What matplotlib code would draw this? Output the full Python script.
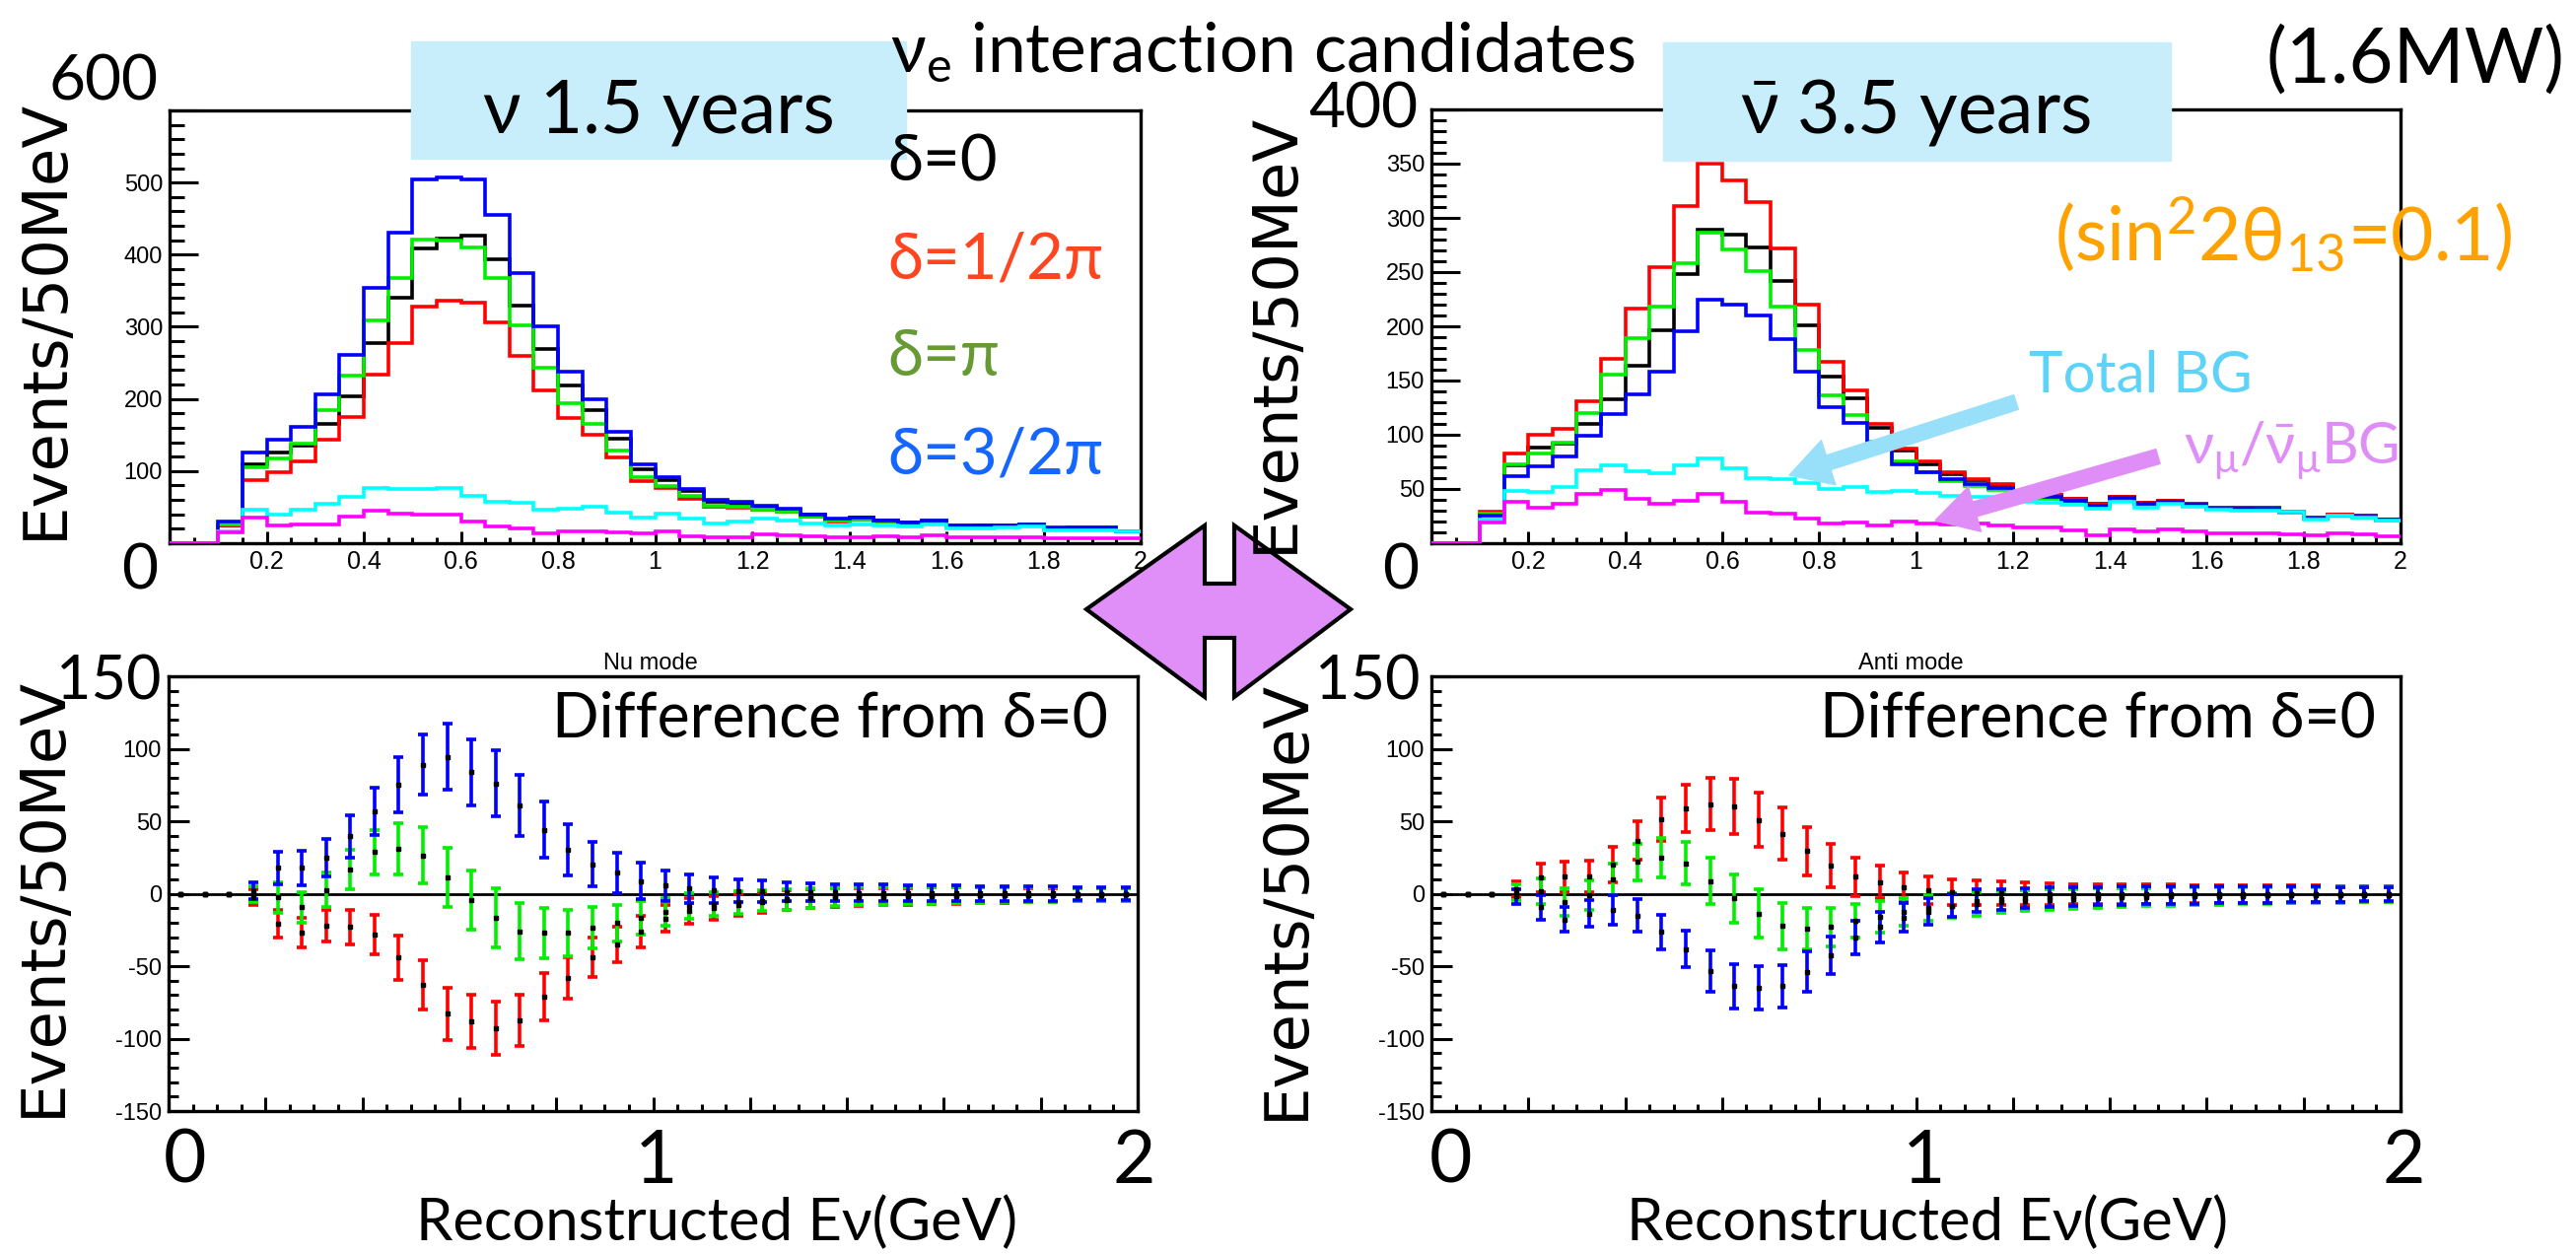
import numpy as np
import matplotlib
matplotlib.use("Agg")
import matplotlib.pyplot as plt
from matplotlib.patches import Rectangle, Polygon, FancyArrowPatch
from matplotlib.ticker import MultipleLocator

# ---------------------------------------------------------------
# data
# ---------------------------------------------------------------

# 50 MeV bins from 0 to 2 GeV
edges = np.linspace(0.0, 2.0, 41)
# points of the difference plots
diff_x = edges[:-1] + 0.025

# nu mode, 1.5 years : events / 50 MeV
nu_d0 = [0, 0, 25, 109, 126, 135, 166, 204, 278, 340, 409, 423, 427, 393, 330, 269, 218, 185, 145, 103,
         88, 72, 58, 55, 51, 47, 39, 33, 35, 32, 29, 32, 25, 24, 25, 26, 21, 22, 22, 17]
nu_dhalf = [0, 0, 24, 88, 98, 113, 143, 175, 234, 278, 328, 336, 334, 306, 259, 212, 174, 150, 119, 86,
            76, 62, 50, 49, 46.5, 43.5, 36.5, 30.5, 33, 30, 27.5, 30.5, 24, 23, 24, 25, 20.5, 21.5, 21.5, 16.5]
nu_dpi = [0, 0, 26, 105, 117, 138, 184, 233, 309, 367, 421, 419, 410, 367, 302, 243, 194, 165, 128, 91,
          79, 65, 52, 50, 47, 44, 36.5, 31, 33, 30.5, 27.5, 31, 24, 23, 24, 25.5, 20.5, 21.5, 21.5, 16.5]
nu_d3half = [0, 0, 30, 126, 144, 161, 206, 261, 354, 430, 504, 507, 504, 455, 374, 301, 238, 200, 154, 109,
             92, 75, 60, 57, 52.5, 48, 40, 34, 36, 32, 29, 32, 25, 24, 25, 26.5, 21.5, 22, 22, 17]
nu_totbg = [0, 0, 17, 46, 39, 46, 54, 64, 77, 75, 75, 76, 66, 57, 56, 47, 48, 50, 43, 36,
            41, 34, 28, 30, 34, 32, 28, 25, 26, 25, 23, 26, 20.5, 20.5, 21.5, 23, 18, 18, 18, 16]
nu_numubg = [0, 0, 15, 36, 24, 26, 26, 37, 45, 41, 39, 39, 30, 23, 20, 14, 17, 17, 15, 14,
             17, 10, 8, 8, 12, 10.5, 9, 8, 8, 10, 8, 11, 8, 8, 8, 8, 7, 7, 7, 7]

# anti-nu mode, 3.5 years
an_d0 = [0, 0, 26, 72, 88, 92, 110, 133, 164, 196, 248, 289, 285, 273, 242, 201, 154, 134, 106, 85,
         73, 64, 58.5, 54, 46, 44.5, 41, 36, 43, 37, 39, 36, 33, 32.5, 32.5, 29.5, 23.5, 26, 25, 22]
an_dhalf = [0, 0, 29, 83, 100, 105, 131, 170, 216, 255, 311, 350, 335, 315, 272, 220, 167, 141, 110, 87,
            75, 65, 59, 54.5, 46, 44.5, 41, 36, 43, 37, 39, 36, 33, 32.5, 32.5, 29.5, 23.5, 26, 25, 22]
an_dpi = [0, 0, 27, 73, 83, 93, 120, 155, 189, 218, 258, 286, 271, 251, 218, 178, 136, 118, 94, 75,
          65, 57, 52.5, 49, 42, 41, 38, 33.5, 40.5, 35, 37, 34.5, 31.5, 31, 31.5, 28.5, 22.5, 25, 24, 21]
an_d3half = [0, 0, 25, 62, 71, 80, 99, 119, 137, 158, 195, 225, 220, 210, 188, 158, 125, 111, 90, 73,
             65, 59, 54.5, 51, 43.5, 42.5, 39.3, 34.5, 41.7, 36, 38, 35, 32, 32, 32, 29, 23, 25.7, 24.7, 21.7]
an_totbg = [0, 0, 22, 48, 47, 52, 67, 72, 66, 64.5, 72, 78, 69, 60, 59, 55, 50, 51.5, 47, 48.5,
            46, 44, 43, 43, 38, 37, 35, 32, 38, 33, 36, 34, 31, 30, 30, 29, 22, 25, 24, 21]
an_numubg = [0, 0, 19, 38, 33, 36, 45, 49, 41, 36, 39, 45, 38, 28, 27, 23, 18, 19, 16, 20,
             18, 17, 18, 16, 14.5, 14.5, 11.5, 7.5, 13, 10.5, 13, 11, 9, 9, 9, 8.5, 7, 9, 8, 6.5]

# difference from delta=0 (value, error) - nu mode
nu_diff_half = [0, 0, 0, -2.5, -20.9, -27.2, -22.2, -23.1, -28.3, -44.2, -62.8, -82.8, -88.2, -93, -87.3,
                -71, -58, -44, -35.1, -26, -17.1, -12.0, -10.0, -8.0, -6.1, -4.3, -3.4, -2.7, -2.5, -2.1,
                -1.8, -1.6, -1.4, -1.2, -1.1, -1.0, -0.9, -0.8, -0.7, -0.6]
nu_err_half = [0, 0, 0, 5.3, 9.6, 10.2, 10.7, 12.2, 13.6, 15.4, 16.9, 18.1, 18.5, 18.5, 17.7, 16.2, 14.4,
               13.4, 12.5, 10.9, 9.3, 9.0, 8.2, 7.6, 7.2, 6.7, 6.5, 6.4, 6.2, 6.0, 5.8, 5.7, 5.5, 5.3,
               5.2, 5.0, 4.9, 4.6, 4.5, 4.4]
nu_diff_pi = [0, 0, 0, -0.5, -2.7, -9.5, 2.5, 16.8, 28.8, 31, 26.5, 11.1, -4.3, -16.6, -25.9, -27.2,
              -27.2, -23.6, -20.4, -16.6, -12.5, -8.5, -7.2, -6.1, -4.8, -3.9, -3.0, -2.5, -2.0, -1.8,
              -1.4, -1.4, -1.1, -1.0, -0.9, -0.8, -0.7, -0.6, -0.5, -0.5]
nu_err_pi = [0, 0, 0, 5.4, 10.3, 10.8, 11.9, 13.8, 15.4, 17.8, 19.3, 20.6, 20.6, 20.4, 19.3, 17.5, 16.0,
             14.1, 12.9, 11.7, 9.5, 8.7, 8.2, 8.0, 7.3, 7.0, 6.6, 6.3, 6.1, 5.9, 5.9, 5.8, 5.5, 5.3,
             5.2, 5.0, 4.9, 4.6, 4.5, 4.4]
nu_diff_3half = [0, 0, 0, 2, 17.7, 17.7, 24.9, 39.7, 56.7, 75, 88.9, 94.5, 83.9, 76, 61, 44, 30.4, 20.4,
                 14.3, 8.8, 5.6, 3.6, 2.5, 2.0, 1.6, 1.3, 1.0, 0.8, 0.6, 0.5, 0.3, 0.2, 0.2, 0.1, 0.1,
                 0.1, 0.1, 0.0, 0.0, 0.0]
nu_err_3half = [0, 0, 0, 6, 11.3, 12.1, 12.8, 14.6, 16.4, 19, 20.7, 22.6, 22.7, 22.7, 21.3, 19.4, 17.5,
                15.4, 14.2, 12.7, 10.7, 9.8, 8.7, 7.7, 7.3, 6.7, 6.2, 5.8, 5.8, 5.9, 5.5, 5.5, 5.4, 5.1,
                5.1, 5.0, 4.9, 4.5, 4.4, 4.4]

# difference from delta=0 (value, error) - anti-nu mode
an_diff_half = [0, 0, 0, 3.2, 10.9, 11.6, 11.8, 20.2, 36.5, 51.2, 59, 61.9, 60.3, 51, 41.3, 29.3, 19.5,
                11.6, 7.9, 4.5, 2.3, 1.1, 0.5, 0.2, 0.0, -0.2, -0.3, -0.3, -0.3, -0.3, -0.3, -0.3, -0.3,
                -0.3, -0.3, -0.3, -0.3, -0.3, -0.3, -0.3]
an_err_half = [0, 0, 0, 5.3, 9.6, 10.4, 10.7, 12.1, 13.3, 14.9, 16.3, 18, 19, 18.7, 18.1, 16.8, 15.1,
               13.3, 11.3, 10.2, 9.5, 9.0, 8.4, 8.0, 7.6, 7.3, 7.0, 6.9, 6.8, 6.7, 6.6, 6.4, 6.3, 6.2,
               6.1, 6.0, 5.8, 5.6, 5.5, 5.3]
an_diff_pi = [0, 0, 0, 1.1, 1.6, -5.9, -0.9, 10, 21.8, 24.7, 20.9, 8.8, -3.4, -13.8, -22.4, -24, -22.9,
              -18.8, -15.9, -12.5, -10, -8.4, -7.3, -6.0, -5.0, -4.2, -3.5, -3.0, -2.6, -2.3, -2.0, -1.8,
              -1.6, -1.4, -1.3, -1.2, -1.1, -1.0, -0.9, -0.8]
an_err_pi = [0, 0, 0, 5.7, 8.7, 9.4, 10, 11, 12.7, 13.8, 14.7, 16.2, 17, 16.7, 16.1, 14.4, 13.3, 11.7,
             10.9, 9.5, 8.8, 8.5, 8.0, 7.5, 7.2, 7.0, 6.8, 6.6, 6.5, 6.3, 6.2, 6.0, 5.9, 5.8, 5.6, 5.5,
             5.4, 5.2, 5.1, 5.0]
an_diff_3half = [0, 0, 0, -2, -9.5, -17.7, -13.8, -11.1, -15, -26.5, -38.3, -53.3, -63.9, -65, -63.9, -54,
                 -42.6, -30.4, -23.1, -16.6, -12.5, -8.2, -4.8, -3.8, -3.0, -2.5, -2.0, -1.7, -1.5, -1.3,
                 -1.1, -1.0, -0.9, -0.8, -0.7, -0.6, -0.5, -0.4, -0.3, -0.3]
an_err_3half = [0, 0, 0, 5.1, 8.5, 8.7, 9.3, 10.4, 11.1, 11.9, 12.7, 14.2, 15.3, 15, 14.6, 13.9, 12.8,
                11.6, 10.8, 9.9, 9.1, 7.6, 7.6, 7.2, 7.0, 6.8, 6.6, 6.4, 6.3, 6.1, 6.0, 5.9, 5.8, 5.6,
                5.5, 5.4, 5.3, 5.1, 5.0, 4.9]

# tick labels
top_xlabels = ["", "0.2", "0.4", "0.6", "0.8", "1", "1.2", "1.4", "1.6", "1.8", "2"]
nu_ylabels = ["", "100", "200", "300", "400", "500", ""]
an_ylabels = ["", "50", "100", "150", "200", "250", "300", "350", ""]
diff_ylabels = ["-150", "-100", "-50", "0", "50", "100", ""]

# ---------------------------------------------------------------

W, H = 2613, 1272
LATO = ["Lato", "DejaVu Sans"]
ROOT = ["Liberation Sans", "DejaVu Sans"]

plt.rcParams["mathtext.fontset"] = "custom"
plt.rcParams["mathtext.rm"] = "Lato"
plt.rcParams["mathtext.it"] = "Lato:italic"
plt.rcParams["mathtext.bf"] = "Lato:bold"

fig = plt.figure(figsize=(W / 100, H / 100), dpi=100)


def put(x, y, s, **kw):
    """ text at pixel position of the reference picture """
    kw.setdefault("zorder", 10)
    return fig.text(x / W, 1 - y / H, s, **kw)


def new_axes(left, top, right, bottom):
    return fig.add_axes([left / W, 1 - bottom / H, (right - left) / W, (bottom - top) / H])


def root_style(ax, ymin, ymax, ymajor, yminor, ylabels, xlabels, ylen):
    ax.set_xlim(0, 2)
    ax.set_ylim(ymin, ymax)
    ax.set_xticks(np.arange(0, 2.01, 0.2))
    ax.set_xticklabels(xlabels, family=ROOT, fontsize=18)
    ax.set_yticks(np.arange(ymin, ymax + 1, ymajor))
    ax.set_yticklabels(ylabels, family=ROOT, fontsize=17)
    ax.xaxis.set_minor_locator(MultipleLocator(0.05))
    ax.yaxis.set_minor_locator(MultipleLocator(yminor))
    ax.tick_params(which="both", direction="in", top=False, right=False, width=2.2)
    ax.tick_params(axis="y", which="major", length=ylen, pad=5)
    ax.tick_params(axis="y", which="minor", length=ylen / 2)
    ax.tick_params(axis="x", which="major", length=9, pad=5)
    ax.tick_params(axis="x", which="minor", length=4)
    for sp in ax.spines.values():
        sp.set_linewidth(2.4)


def histos(ax, series):
    # drawn above the frame, so the empty first bins show on the x axis
    for vals, col in series:
        ax.stairs(vals, edges, color=col, lw=2.6, baseline=None, zorder=3)


def diffs(ax, series):
    ax.axhline(0, color="black", lw=2.0, zorder=1)
    for vals, errs, col in series:
        v = np.array(vals)
        e = np.array(errs)
        m = e > 0
        ax.errorbar(diff_x[m], v[m], yerr=e[m], fmt="none", ecolor=col,
                    elinewidth=2.6, capsize=3.8, capthick=2.6, zorder=2)
    for vals, errs, col in series:
        ax.plot(diff_x, vals, "s", color="black", ms=2.2, zorder=3)


# --- top left : nu mode spectra
ax1 = new_axes(172, 112, 1157, 551)
root_style(ax1, 0, 600, 100, 20, nu_ylabels, top_xlabels, 21)
histos(ax1, [(nu_d0, "black"), (nu_dhalf, "#ff0000"), (nu_dpi, "#00ee00"),
             (nu_d3half, "#0000ff"), (nu_totbg, "#00ffff"), (nu_numubg, "#ff00ff")])

# --- top right : anti-nu mode spectra
ax2 = new_axes(1452, 111, 2435, 551)
root_style(ax2, 0, 400, 50, 10, an_ylabels, top_xlabels, 21)
histos(ax2, [(an_d0, "black"), (an_dhalf, "#ff0000"), (an_dpi, "#00ee00"),
             (an_d3half, "#0000ff"), (an_totbg, "#00ffff"), (an_numubg, "#ff00ff")])

# --- bottom : differences
ax3 = new_axes(171, 686, 1154, 1127)
root_style(ax3, -150, 150, 50, 10, diff_ylabels, [""] * 11, 15)
ax3.tick_params(axis="x", which="major", length=10)
ax3.tick_params(axis="x", which="minor", length=5)
diffs(ax3, [(nu_diff_half, nu_err_half, "#ff0000"), (nu_diff_pi, nu_err_pi, "#00ee00"),
            (nu_diff_3half, nu_err_3half, "#0000ff")])

ax4 = new_axes(1452, 686, 2435, 1127)
root_style(ax4, -150, 150, 50, 10, diff_ylabels, [""] * 11, 15)
ax4.tick_params(axis="x", which="major", length=10)
ax4.tick_params(axis="x", which="minor", length=5)
diffs(ax4, [(an_diff_half, an_err_half, "#ff0000"), (an_diff_pi, an_err_pi, "#00ee00"),
            (an_diff_3half, an_err_3half, "#0000ff")])

# --- overlay of the slide
put(1281, 73, r"$\mathrm{\nu_e}$ interaction candidates", ha="center", va="baseline",
    fontsize=50, family=LATO)
put(2450, 62, "(1.6MW)", ha="center", va="center", fontsize=56, family=LATO)

for (x0, y0, x1, y1) in [(417, 42, 919, 161), (1687, 43, 2202, 163)]:
    fig.patches.append(Rectangle((x0 / W, 1 - y1 / H), (x1 - x0) / W, (y1 - y0) / H,
                                 transform=fig.transFigure, color="#c8eefb", zorder=8))
put(668, 134, "ν 1.5 years", ha="center", va="baseline", fontsize=54, family=LATO)
put(1943, 134, r"$\mathrm{\bar{\nu}}$ 3.5 years", ha="center", va="baseline", fontsize=54,
    family=LATO)

put(900, 184, "δ=0", color="black", fontsize=47, family=LATO, va="baseline")
put(900, 283, "δ=1/2π", color="#ff4520", fontsize=47, family=LATO, va="baseline")
put(900, 381, "δ=π", color="#679a35", fontsize=47, family=LATO, va="baseline")
put(900, 480, "δ=3/2π", color="#1565ff", fontsize=47, family=LATO, va="baseline")

put(2084, 264, r"(sin$^{2}$2θ$_{13}$=0.1)", color="#ffa200", fontsize=54,
    family=LATO, va="baseline")
put(2058, 398, "Total BG", color="#5dd3f7", fontsize=42, family=LATO, va="baseline")
put(2215, 470, r"$\mathrm{\nu_\mu/\bar{\nu}_\mu BG}$", color="#e08ef7", fontsize=42,
    family=LATO, va="baseline")

for (xa, ya, xb, yb, col) in [(2045, 408, 1815, 482, "#98dffa"), (2189, 463, 1963, 528, "#e08ef7")]:
    fig.add_artist(FancyArrowPatch((xa / W, 1 - ya / H), (xb / W, 1 - yb / H),
                                   transform=fig.transFigure, color=col, zorder=9,
                                   arrowstyle="simple,head_length=1.5,head_width=1.7,tail_width=0.55",
                                   mutation_scale=20, shrinkA=0, shrinkB=0))

# double arrow between the two modes
arrow_px = [(1102, 618), (1222, 533), (1222, 592), (1252, 592), (1252, 533),
            (1370, 618), (1252, 707), (1252, 647), (1222, 647), (1222, 707)]
fig.patches.append(Polygon([(x / W, 1 - y / H) for x, y in arrow_px], closed=True,
                           transform=fig.transFigure, facecolor="#e08ff8", edgecolor="black",
                           lw=3, zorder=9))

# big axis numbers put on top of the slide
put(105, 101, "600", ha="center", va="baseline", fontsize=46, family=LATO)
put(142, 597, "0", ha="center", va="baseline", fontsize=46, family=LATO)
put(1383, 130, "400", ha="center", va="baseline", fontsize=46, family=LATO)
put(1421, 597, "0", ha="center", va="baseline", fontsize=46, family=LATO)
put(110, 709, "150", ha="center", va="baseline", fontsize=44, family=LATO)
put(1387, 709, "150", ha="center", va="baseline", fontsize=44, family=LATO)
for xs in [(187, 666, 1150), (1472, 1952, 2438)]:
    for xp, s in zip(xs, ["0", "1", "2"]):
        put(xp, 1200, s, ha="center", va="baseline", fontsize=54, family=LATO)

for xc in [727, 1955]:
    put(xc, 1258, "Reconstructed Eν(GeV)", ha="center", va="baseline", fontsize=43, family=LATO)

put(660, 679, "Nu mode", ha="center", va="baseline", fontsize=17, family=ROOT)
put(1938, 679, "Anti mode", ha="center", va="baseline", fontsize=17, family=ROOT)
put(1124, 748, "Difference from δ=0", ha="right", va="baseline", fontsize=45, family=LATO)
put(2410, 748, "Difference from δ=0", ha="right", va="baseline", fontsize=45, family=LATO)

for (xc, yc) in [(46, 323), (1294, 337), (44, 909), (1305, 912)]:
    put(xc, yc, "Events/50MeV", ha="center", va="center", rotation=90, fontsize=45,
        family=["DejaVu Sans"])

fig.savefig("out.png", dpi=100)
